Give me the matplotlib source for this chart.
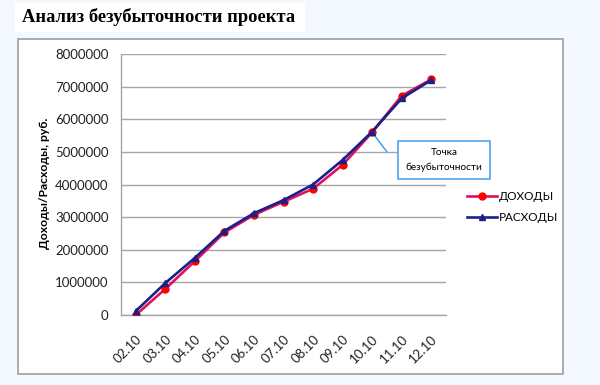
import matplotlib.pyplot as plt
from matplotlib.patches import Rectangle

# data
dates = ['02.10', '03.10', '04.10', '05.10', '06.10', '07.10',
         '08.10', '09.10', '10.10', '11.10', '12.10']
dohody = [0, 800000, 1650000, 2530000, 3070000, 3470000,
          3870000, 4600000, 5600000, 6720000, 7220000]
rashody = [120000, 980000, 1750000, 2580000, 3120000, 3520000,
           4000000, 4750000, 5620000, 6640000, 7200000]
y_ticks = [0, 1000000, 2000000, 3000000, 4000000, 5000000, 6000000, 7000000, 8000000]

plt.rcParams['font.family'] = ['Lato', 'DejaVu Sans']

fig = plt.figure(figsize=(6, 3.85), dpi=100, facecolor='#F3F9FE')

# white strip behind the title and the white chart box
fig.patches.append(Rectangle((15 / 600, 1 - 32 / 385), 290 / 600, 29 / 385,
                             transform=fig.transFigure, facecolor='white',
                             edgecolor='none', zorder=0))
fig.patches.append(Rectangle((18 / 600, 1 - 374 / 385), 545 / 600, 335 / 385,
                             transform=fig.transFigure, facecolor='white',
                             edgecolor='#A6A6A6', linewidth=1.3, zorder=0))

fig.text(22 / 600, 1 - 17 / 385, 'Анализ безубыточности проекта',
         family='Liberation Serif', weight='bold', fontsize=13.3,
         va='center', ha='left')

ax = fig.add_axes([121 / 600, 1 - 315 / 385, 325 / 600, 261 / 385])
ax.set_zorder(2)
ax.set_facecolor('white')
x = range(len(dates))

ax.plot(x, dohody, color='#E0105C', lw=1.9, marker='o', markersize=5,
        markerfacecolor='#FF0000', markeredgecolor='#FF0000', label='ДОХОДЫ', zorder=3)
ax.plot(x, rashody, color='#1A1F8A', lw=1.9, marker='^', markersize=5,
        markerfacecolor='#1A1F8A', markeredgecolor='#1A1F8A', label='РАСХОДЫ', zorder=4)

ax.set_xlim(-0.5, len(dates) - 0.5)
ax.set_ylim(0, 8000000)
ax.set_yticks(y_ticks)
ax.set_yticklabels([str(v) for v in y_ticks])
ax.set_xticks(list(x))
ax.set_xticklabels(dates, rotation=45, ha='right', rotation_mode='anchor')
ax.tick_params(axis='both', length=0, labelsize=9.5, colors='#222222')
ax.tick_params(axis='y', pad=9)
ax.tick_params(axis='x', pad=13)

ax.grid(axis='y', color='#A6A6A6', lw=1)
ax.set_axisbelow(True)
for s in ['top', 'right']:
    ax.spines[s].set_visible(False)
for s in ['left', 'bottom']:
    ax.spines[s].set_color('#A6A6A6')
    ax.spines[s].set_linewidth(1)

fig.text(45 / 600, 1 - 183 / 385, 'Доходы/Расходы, руб.', rotation=90,
         weight='bold', fontsize=8.7, ha='center', va='center')

# callout for the break-even point
ax.annotate('', xy=(8, dohody[8]), xytext=(387, 385 - 152),
            textcoords='figure pixels', annotation_clip=False,
            arrowprops=dict(arrowstyle='-', color='#3399EE', lw=1,
                            shrinkA=0, shrinkB=0))
fig.text(444 / 600, 1 - 160 / 385, 'Точка\nбезубыточности',
         ha='center', va='center', fontsize=7.2, linespacing=1.7,
         bbox=dict(boxstyle='square,pad=0.75', facecolor='white',
                   edgecolor='#55A5F5', lw=1.2), zorder=5)

fig.legend(loc='center left', bbox_to_anchor=(456 / 600, 1 - 207 / 385),
           frameon=False, fontsize=8.5, handlelength=2.6, handletextpad=0.1,
           labelspacing=0.8)

fig.savefig('out.png', dpi=100, facecolor=fig.get_facecolor())
